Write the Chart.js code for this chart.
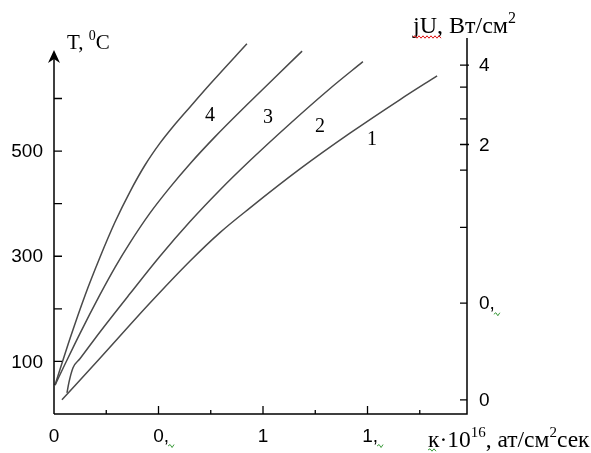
<!DOCTYPE html>
<html>
<head>
<meta charset="utf-8">
<script src="https://cdn.jsdelivr.net/npm/chart.js@4.4.0/dist/chart.umd.min.js"></script>
<style>
  body { margin: 0; background: #fff; }
</style>
</head>
<body>
<canvas id="chart" width="591" height="453"></canvas>
<script>
// Curves T(k), values (k in 10^16 at/cm2 s, T in deg C)
const curve1K = [0.038, 0.22, 0.459, 0.651, 0.794, 0.938, 1.177, 1.416, 1.656, 1.833];
const curve1T = [27, 106, 211, 291, 345, 392, 466, 534, 598, 643];

const curve2K = [0.062, 0.072, 0.091, 0.124, 0.22, 0.364, 0.507, 0.651, 0.794, 0.938, 1.129, 1.321, 1.478];
const curve2T = [40, 61, 88, 105, 156, 229, 300, 366, 426, 482, 552, 619, 670];

const curve3K = [0.005, 0.053, 0.124, 0.22, 0.292, 0.364, 0.459, 0.555, 0.651, 0.77, 0.923, 1.057, 1.187];
const curve3T = [55, 95, 153, 227, 279, 326, 382, 431, 476, 527, 588, 640, 690];

const curve4K = [0.005, 0.077, 0.148, 0.22, 0.292, 0.364, 0.435, 0.507, 0.579, 0.651, 0.746, 0.923];
const curve4T = [55, 144, 225, 298, 365, 423, 473, 515, 551, 584, 627, 704];

// curve numbers and where they sit
const curveNames = ['1', '2', '3', '4'];
const curveLabelK = [1.522, 1.273, 1.024, 0.746];
const curveLabelT = [521, 547, 563, 568];

// axis ticks
const tempTicks = [100, 200, 300, 400, 500, 600];
const tempLabels = ['100', '', '300', '', '500', ''];
const kTicks = [0, 0.25, 0.5, 0.75, 1, 1.25, 1.5, 1.75];
const kLabels = ['0', '', '0,', '', '1', '', '1,', ''];
const powerTicks = [0.215, 0.5, 0.97, 1.6, 2, 2.5, 3.3, 4];
const powerLabels = ['0', '0,', '', '', '2', '', '', '4'];

const toPoints = (ks, ts) => ks.map((k, i) => ({ x: k, y: ts[i] }));

const curveStyle = {
    borderColor: '#4a4a4a',
    borderWidth: 1.5,
    pointRadius: 0,
    showLine: true,
    fill: false,
    cubicInterpolationMode: 'monotone'
};

const SERIF = '"Liberation Serif", "Times New Roman", serif';
const SANS = '"Liberation Sans", Arial, sans-serif';

// draw text made of normal and superscript pieces
const drawRich = (ctx, x, y, parts, size) => {
    ctx.textAlign = 'left';
    ctx.textBaseline = 'alphabetic';
    parts.forEach(p => {
        ctx.font = (p.sup ? Math.round(size * 0.65) : size) + 'px ' + SERIF;
        ctx.fillText(p.t, x, p.sup ? y - size * 0.42 : y);
        x += ctx.measureText(p.t).width;
    });
};

const squiggle = (ctx, x0, x1, y, color, amp, step) => {
    ctx.strokeStyle = color;
    ctx.lineWidth = 1;
    ctx.beginPath();
    let up = true;
    ctx.moveTo(x0, y);
    for (let x = x0 + step; x <= x1; x += step) {
        ctx.lineTo(x, up ? y - amp : y + amp);
        up = !up;
    }
    ctx.stroke();
};

const axesPlugin = {
    id: 'axes',
    afterDatasetsDraw(chart) {
        const { ctx, chartArea: a, scales: { x, y, y2 } } = chart;
        ctx.save();
        ctx.strokeStyle = '#000';
        ctx.fillStyle = '#000';
        ctx.lineWidth = 1.5;

        // axis lines: left arrow, bottom, right
        const tipY = a.top + 12;
        ctx.beginPath();
        ctx.moveTo(a.left, a.bottom);
        ctx.lineTo(a.left, tipY + 6);
        ctx.moveTo(a.left, a.bottom);
        ctx.lineTo(a.right, a.bottom);
        ctx.lineTo(a.right, a.top);
        ctx.stroke();
        ctx.beginPath();
        ctx.moveTo(a.left, tipY);
        ctx.lineTo(a.left + 6, tipY + 13);
        ctx.lineTo(a.left, tipY + 9);
        ctx.lineTo(a.left - 6, tipY + 13);
        ctx.closePath();
        ctx.fill();

        // tick marks
        ctx.lineWidth = 1.3;
        ctx.beginPath();
        tempTicks.forEach(v => {
            const py = y.getPixelForValue(v);
            ctx.moveTo(a.left, py);
            ctx.lineTo(a.left + 8, py);
        });
        kTicks.forEach((v, i) => {
            if (v === 0) return;
            const px = x.getPixelForValue(v);
            ctx.moveTo(px, a.bottom);
            ctx.lineTo(px, a.bottom - (kLabels[i] ? 8 : 4));
        });
        powerTicks.forEach((v, i) => {
            const py = y2.getPixelForValue(v);
            ctx.moveTo(a.right - 7, py);
            ctx.lineTo(a.right + (powerLabels[i] === '4' || powerLabels[i] === '2' ? 2 : 0), py);
        });
        ctx.stroke();

        // tick labels
        ctx.font = '19px ' + SANS;
        ctx.textBaseline = 'middle';
        ctx.textAlign = 'right';
        tempTicks.forEach((v, i) => {
            if (tempLabels[i]) ctx.fillText(tempLabels[i], a.left - 11, y.getPixelForValue(v) + 1);
        });
        ctx.textAlign = 'left';
        kTicks.forEach((v, i) => {
            const s = kLabels[i];
            if (!s) return;
            const px = x.getPixelForValue(v) - ctx.measureText(s[0]).width / 2;
            ctx.fillText(s, px, a.bottom + 23);
            if (s.length > 1) {
                const ex = px + ctx.measureText(s).width;
                squiggle(ctx, ex - 1, ex + 5, a.bottom + 32, '#3a9a3a', 1.5, 2);
            }
        });
        powerTicks.forEach((v, i) => {
            const s = powerLabels[i];
            if (!s) return;
            const py = y2.getPixelForValue(v);
            const px = a.right + 12;
            ctx.fillText(s, px, py + 1);
            if (s.length > 1) {
                const ex = px + ctx.measureText(s).width;
                squiggle(ctx, ex - 1, ex + 5, py + 11, '#3a9a3a', 1.5, 2);
            }
        });

        // curve numbers
        ctx.fillStyle = '#000';
        ctx.font = '20px ' + SERIF;
        ctx.textAlign = 'center';
        ctx.textBaseline = 'middle';
        curveNames.forEach((n, i) => {
            ctx.fillText(n, x.getPixelForValue(curveLabelK[i]), y.getPixelForValue(curveLabelT[i]));
        });

        // axis titles
        drawRich(ctx, a.left + 13, a.top + 11, [{ t: 'T, ' }, { t: '0', sup: true }, { t: 'C' }], 21);
        drawRich(ctx, a.right - 54, a.top - 5, [{ t: 'jU, Вт/см' }, { t: '2', sup: true }], 24);
        squiggle(ctx, a.right - 54, a.right - 26, a.top - 1, '#e01010', 1.2, 2);
        drawRich(ctx, a.right - 39, a.bottom + 33, [{ t: 'к·10' }, { t: '16', sup: true }, { t: ', ат/см' }, { t: '2', sup: true }, { t: 'сек' }], 23.5);
        squiggle(ctx, a.right - 39, a.right - 30, a.bottom + 36, '#3a9a3a', 1.2, 2);

        ctx.restore();
    }
};

new Chart(document.getElementById('chart').getContext('2d'), {
    type: 'scatter',
    data: {
        datasets: [
            { label: '1', data: toPoints(curve1K, curve1T), ...curveStyle },
            { label: '2', data: toPoints(curve2K, curve2T), ...curveStyle },
            { label: '3', data: toPoints(curve3K, curve3T), ...curveStyle },
            { label: '4', data: toPoints(curve4K, curve4T), ...curveStyle }
        ]
    },
    options: {
        responsive: false,
        animation: false,
        devicePixelRatio: 1,
        layout: { padding: { left: 54, right: 124, top: 38, bottom: 39 } },
        plugins: { legend: { display: false }, tooltip: { enabled: false } },
        scales: {
            x: { type: 'linear', min: 0, max: 1.976, display: false },
            y: { type: 'linear', min: 0, max: 715, display: false },
            y2: { type: 'logarithmic', position: 'right', min: 0.19, max: 5.07, display: false }
        }
    },
    plugins: [axesPlugin]
});
</script>
</body>
</html>
